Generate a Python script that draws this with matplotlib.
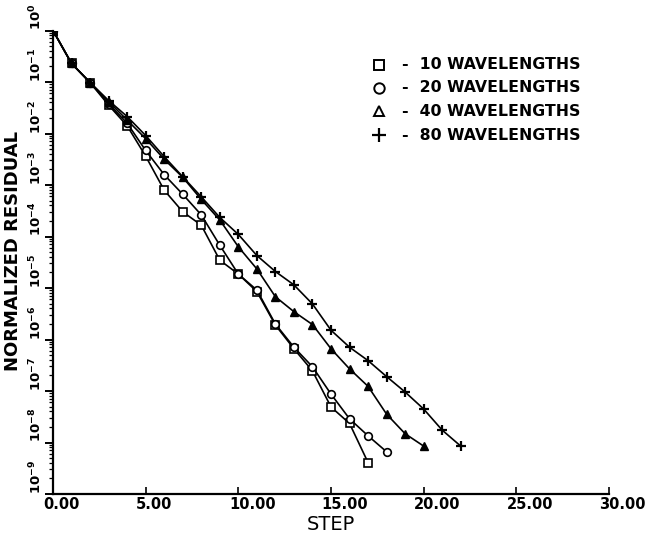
import matplotlib
matplotlib.use("Agg")
import matplotlib.pyplot as plt
import matplotlib.transforms as mtransforms
from matplotlib.ticker import FixedLocator, LogLocator, NullFormatter
import numpy as np

# Residual history (log10 of normalized residual) per iteration step
steps_10 = list(range(18))
log_res_10 = [0.0, -0.64, -1.01, -1.45, -1.85, -2.44, -3.10, -3.52, -3.78,
              -4.46, -4.73, -5.07, -5.72, -6.18, -6.61, -7.31, -7.63, -8.39]

steps_20 = list(range(19))
log_res_20 = [0.0, -0.64, -1.01, -1.42, -1.80, -2.33, -2.80, -3.18, -3.58,
              -4.17, -4.73, -5.04, -5.70, -6.15, -6.53, -7.06, -7.54, -7.87,
              -8.18]

steps_40 = list(range(21))
log_res_40 = [0.0, -0.64, -1.01, -1.38, -1.74, -2.10, -2.50, -2.85, -3.28,
              -3.68, -4.20, -4.63, -5.17, -5.46, -5.71, -6.18, -6.57, -6.91,
              -7.45, -7.83, -8.07]

steps_80 = list(range(23))
log_res_80 = [0.0, -0.64, -1.01, -1.36, -1.67, -2.04, -2.45, -2.84, -3.23,
              -3.63, -3.96, -4.37, -4.68, -4.94, -5.31, -5.82, -6.15, -6.41,
              -6.72, -7.02, -7.35, -7.76, -8.07]

legend_labels = ["10 WAVELENGTHS", "20 WAVELENGTHS",
                 "40 WAVELENGTHS", "80 WAVELENGTHS"]

x_ticks = [0, 5, 10, 15, 20, 25, 30]
x_tick_labels = ["0.00", "5.00", "10.00", "15.00", "20.00", "25.00", "30.00"]
y_decades = list(range(-9, 1))

plt.rcParams["font.family"] = ["DejaVu Sans"]
plt.rcParams["mathtext.fontset"] = "dejavusans"
plt.rcParams["mathtext.default"] = "bf"

W, H = 646, 535
fig = plt.figure(figsize=(W / 100, H / 100), dpi=100)
ax = fig.add_axes([53 / W, 1 - 494 / H, 556 / W, 463.5 / H])

series = [
    (steps_10, log_res_10, dict(marker="s", ms=5.5, mfc="white", mew=1.2)),
    (steps_20, log_res_20, dict(marker="o", ms=5.5, mfc="white", mew=1.2)),
    (steps_40, log_res_40, dict(marker="^", ms=5.5, mfc="black", mew=1.0)),
    (steps_80, log_res_80, dict(marker="+", ms=7.5, mew=1.6)),
]
for steps, logs, style in series:
    ax.plot(steps, 10.0 ** np.array(logs), color="black", lw=1.2,
            mec="black", **style)

ax.set_yscale("log")
ax.set_xlim(0, 30)
ax.set_ylim(1e-9, 1e0)

for side in ("top", "right"):
    ax.spines[side].set_visible(False)
for side in ("left", "bottom"):
    ax.spines[side].set_linewidth(1.6)

# x axis: ticks point into the plot, labels start just left of each tick
ax.xaxis.set_major_locator(FixedLocator(x_ticks))
ax.set_xticklabels(x_tick_labels, fontsize=10.5, fontweight="bold")
ax.tick_params(axis="x", which="major", direction="in", length=5,
               width=1.2, pad=2.5)
shift = mtransforms.ScaledTranslation(-0.095, 0, fig.dpi_scale_trans)
for lbl in ax.get_xticklabels():
    lbl.set_horizontalalignment("left")
    lbl.set_transform(lbl.get_transform() + shift)

# y axis: decade labels written sideways, reading upward from each tick
ax.yaxis.set_major_locator(FixedLocator([10.0 ** d for d in y_decades]))
ax.yaxis.set_minor_locator(LogLocator(base=10, subs=range(2, 10), numticks=50))
ax.yaxis.set_minor_formatter(NullFormatter())
ax.set_yticklabels([r"$10^{%d}$" % d for d in y_decades], fontsize=9.5)
ax.tick_params(axis="y", which="major", direction="out", length=6,
               width=1.4, pad=0.5)
ax.tick_params(axis="y", which="minor", direction="out", length=3, width=0.9)
for lbl in ax.get_yticklabels():
    lbl.set_rotation(90)
    lbl.set_verticalalignment("bottom")
    lbl.set_horizontalalignment("right")

fig.text(331 / W, 1 - 530 / H, "STEP", fontsize=14, ha="center",
         va="baseline")
fig.text(13 / W, 1 - 251 / H, "NORMALIZED RESIDUAL", fontsize=13,
         fontweight="bold", rotation=90, ha="center", va="center")

# key in the upper right
legend_markers = [
    dict(marker="s", ms=7.5, mfc="white", mew=1.4),
    dict(marker="o", ms=7.5, mfc="white", mew=1.4),
    dict(marker="^", ms=7, mfc="white", mew=1.4),
    dict(marker="+", ms=10, mew=1.6),
]
legend_rows = [0.9256, 0.876, 0.826, 0.7745]
for label, style, y in zip(legend_labels, legend_markers, legend_rows):
    ax.plot([0.586], [y], transform=ax.transAxes, color="black", mec="black",
            clip_on=False, ls="none", **style)
    ax.text(0.628, y, "-  " + label, transform=ax.transAxes, fontsize=11.3,
            fontweight="bold", va="center", ha="left")

fig.savefig("out.png", dpi=100, facecolor="white")
